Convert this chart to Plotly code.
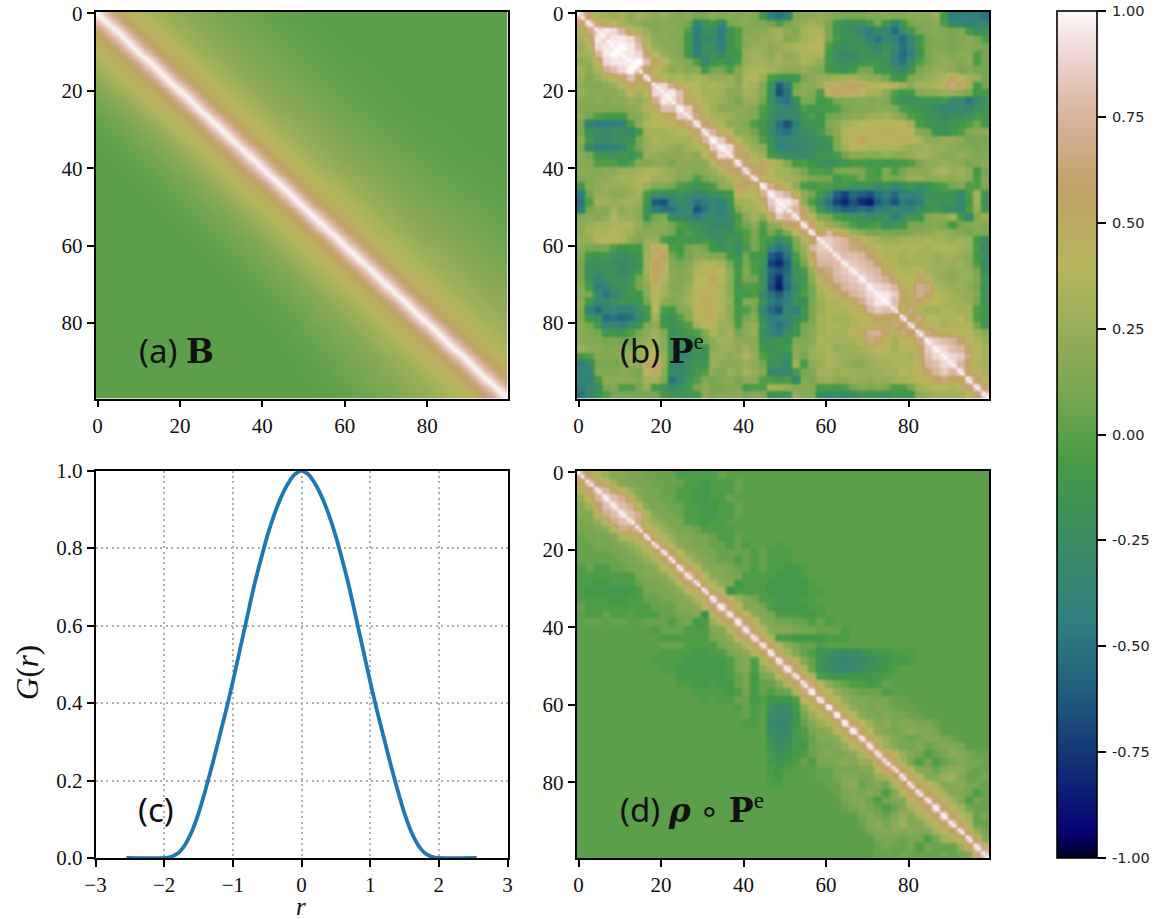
import numpy as np
import plotly.graph_objects as go

# ---------- colour map stops (gist_earth) ----------
CM_R = [(0, 0), (.2824, .1882), (.4588, .2714), (.5490, .4719), (.6980, .7176), (.7882, .7553), (1, .9922)]
CM_G = [(0, 0), (.0275, 0), (.1098, .1893), (.1647, .3035), (.2078, .3841), (.2824, .5020), (.5216, .6397),
        (.6980, .7171), (.7882, .6392), (.8157, .6549), (.8667, .6991), (.8980, .7430), (.9412, .8275),
        (.9647, .8816), (1, .9843)]
CM_B = [(0, 0), (.0039, .1684), (.0078, .2212), (.0275, .4329), (.0314, .4549), (.2824, .5004), (.4667, .2748),
        (.5451, .3205), (.7843, .3961), (.8941, .6651), (1, .9843)]
CM_POS = [0, .004, .008, .0275, .0314, .06, .11, .165, .208, .2824, .35, .42, .4588, .4667, .5, .5216, .5451, .5490,
          .6, .65, .698, .74, .7843, .7882, .8157, .8667, .8941, .898, .9412, .9647, 1]


def channel(stops, t):
    return float(np.interp(t, [s[0] for s in stops], [s[1] for s in stops]))


COLORSCALE = [[t, "rgb(%d,%d,%d)" % (channel(CM_R, t) * 255, channel(CM_G, t) * 255, channel(CM_B, t) * 255)]
              for t in CM_POS]

# ---------- value alphabet: A=-1.00 ... T=-0.05, 0=0, 1..9=.05-.45, a..k=.50-1.00 ----------
LEVELS = "ABCDEFGHIJKLMNOPQRST0123456789abcdefghijk"


def level(ch):
    return LEVELS.index(ch) / 20 - 1


# ---------- panel (a): value by distance from the diagonal, and how far the far field reaches along it ----------
B_PROFILE = [1.00, .92, .82, .72, .64, .57, .52, .48, .45, .42, .39, .37, .35, .33, .31, .29, .275, .26, .245, .23,
             .215, .20, .19, .18, .165, .155, .145, .135, .125, .115, .105, .098, .09, .083, .076, .07, .063, .057,
             .05, .045, .04, .035, .03, .026, .022, .018, .015, .012, .009, .007, .005, .003, .002, .001, 0, 0, 0, 0,
             0, 0]
B_REACH_UPPER = [1, 1, 1, 1, 1, 1, 1, 1, 1, 1, 1.02, 1.05, 1.08, 1.12, 1.16, 1.2, 1.24, 1.28, 1.32, 1.35]
B_REACH_LOWER = [.55, .55, .55, .55, .56, .57, .58, .59, .6, .61, .63, .66, .7, .75, .8, .86, .92, .98, 1.05, 1.1]
B_NEAR_BAND = 12

# ---------- panel (b): rows of two-index cells, from the diagonal to the right edge ----------
PE_ROWS = [
    "gc76564654 5434224343 43SLKL3445 4322233433 4445SLMMLK",
    "hda8654334332MQSN23 4332T24565 2SQQQS2RMR 2334TONMNN",
    "hjif9753 443TLPPLRT 3445643677 2RQPNLONJP S234323SPQ",
    "hjjie74 433SLOOLRT 4455634678 2SQQPMKNMJ NR2332342T",
    "jkjg95 443SLPPMRT 4554567788 TQPQQPNQNK NS23323432",
    "jjic8 543SMPQNSR 5654645777 RPOOQQPRMJ MR244344T2",
    "jkgb 9543TNQSQT 5665655764 SQPPRSSQMK PT245434T2",
    "gb9 64534S22T3 6776544543 SRQS22RRPO R245542322",
    "ga 8676765553 785TRQR245 56665442RR 34567b8652",
    "h ie98867654 763QIL2445 a9bbb98886 46679db6S2",
    "ijga866644 663PHK343T 9baa8664TR S3445543RS",
    "iga976542 552PMKP22R T2334343SQ QQQQROOKOQ",
    "jhb86444 43TQONOTRS ST2333443T SRQPNNONQR",
    "hd96654 43SPNOORTR 2234455643 TSQQOPPRSR",
    "hc9744 3TROKHLQRR 3467889898 6TRRQRST2S",
    "hf984 42SOLKNPQS 2479889a99 832QQRT344",
    "jhc8 54TQNNOOPQ R379b9999a 9744554222",
    "jic 754RMMNOPP Q368877776 5565543323",
    "hc b75SQPPOPR RS24444544 5665445433",
    "h c9b963STRQ PQRSSRSRSS T244544234",
    "gcb86642TT S2232TS3T2 44467564S2",
    "g98766422 2RTT2TT323 55445454T3",
    "iea84TST TSSQQROQNP RPQST23TT3",
    "jhf942S NIGJIHKLJM MNQQRQOT6R",
    "jjh4TO KGEHEDIKHL KLRRQQNS6Q",
    "hfb3R MKIJKJLMNN MPQRPONT5R",
    "hb83 2TRQQOPQLP RR3446SN35",
    "hc7 542TRSTPRR 22332S2343",
    "ha fa85422222 3445543233",
    "h hgfc976556 66766565SP",
    "hgfdca8777 77677765TO",
    "hggfc9776 76656654SP",
    "ihgfc976 66655564TO",
    "ihgfa97 796554552P",
    "jhge98 8a9654553R",
    "jihf9 8ed765542Q",
    "jjhc 9ec876553Q",
    "jgb ab9876652Q",
    "g9 d7667766TS",
    "g bd887786TR",
    "gb98677 72R",
    "gdba99864",
    "ihgfc975",
    "jigfb86",
    "jihd86",
    "ifb76",
    "hb96",
    "hc8",
    "hc",
    "h",
]

# ---------- panel (d): rows as in (b), zero beyond the end of each string ----------
RP_ROWS = [
    "eb7533221111TTTTT1", "fc9633221111TTSTTT1", "hfb9532211TTSSTTT1", "ige942211TTSSTT1", "ige832211TTSSTT1",
    "ige73221TTSSTT1", "hd75322TTSTT", "ea753221TTTT", "fa7533221TT1", "ea7432211T1T000T",
    "gb843221111T1TTT", "fa743211T1T1TTT", "gc8433211T1TTSST", "gc84322TTTTSSST", "fa743STTTSSSSST",
    "fa8QTTTTSSSSSTT", "hc9532TTSSSTT", "ic9332TSSSSTT", "hb9432TTTSST", "ic9432211T1T",
    "hb7433222111T", "gb7TTSSSSTTT", "hb74211T", "hb631TRQPOPQRSSTTT", "hc831ROONOOPQRSST",
    "hc71RPOOOPQRST", "gb7TRRRSSSST", "gd8421TTST1", "ia8532111T", "ha853322211",
    "ia743232111", "ia843232211", "ib8534233221", "ib843234332", "hb7532123321",
    "hb5322312332", "gc8532T1243211", "ec62T2T1232211", "eb73313442112", "gb8335631122",
    "fb96334221", "fb96332T1", "gc963T21", "ic86211", "ic8612", "gb711", "ga52", "gb3", "hd", "g",
]

# ---------- panel (c) ----------
R_VALUES = [-2.55, -2.0, -1.9, -1.8, -1.7, -1.6, -1.5, -1.4, -1.3, -1.2, -1.1, -1.0, -.9, -.8, -.7, -.6, -.5, -.4, -.3,
            -.2, -.1, 0, .1, .2, .3, .4, .5, .6, .7, .8, .9, 1.0, 1.1, 1.2, 1.3, 1.4, 1.5, 1.6, 1.7, 1.8, 1.9, 2.0, 2.55]
G_VALUES = [0, 0, .003, .012, .033, .067, .115, .175, .24, .31, .38, .455, .535, .615, .695, .765, .83, .885, .93,
            .965, .99, 1, .99, .965, .93, .885, .83, .765, .695, .615, .535, .455, .38, .31, .24, .175, .115, .067,
            .033, .012, .003, 0, 0]

INDEX_TICKS = [0, 20, 40, 60, 80]
R_TICKS = [-3, -2, -1, 0, 1, 2, 3]
R_TICK_TEXT = ["−3", "−2", "−1", "0", "1", "2", "3"]
G_TICKS = [0, .2, .4, .6, .8, 1]
G_TICK_TEXT = ["0.0", "0.2", "0.4", "0.6", "0.8", "1.0"]
CB_TICKS = [-1, -.75, -.5, -.25, 0, .25, .5, .75, 1]
CB_TICK_TEXT = ["-1.00", "-0.75", "-0.50", "-0.25", "0.00", "0.25", "0.50", "0.75", "1.00"]


def band_matrix():
    m = [[0.0] * 100 for _ in range(100)]
    for i in range(100):
        for j in range(100):
            off = abs(i - j)
            seg = min((i + j) // 10, 19)
            reach = B_REACH_UPPER[seg] if j > i else B_REACH_LOWER[seg]
            at = off if off <= B_NEAR_BAND else B_NEAR_BAND + (off - B_NEAR_BAND) / reach
            lo = int(at)
            m[i][j] = B_PROFILE[lo] if lo < len(B_PROFILE) else 0.0
    return m


def triangle_matrix(rows):
    m = [[0.0] * 100 for _ in range(100)]
    for k, s in enumerate(rows):
        s = s.replace(" ", "")
        for n in range(50 - k):
            v = level(s[n]) if n < len(s) else 0.0
            for a in (2 * k, 2 * k + 1):
                for b in (2 * (k + n), 2 * (k + n) + 1):
                    m[a][b] = v
                    m[b][a] = v
    for i in range(100):
        m[i][i] = 1.0
    return m


bad = [(k, len(s.replace(" ", ""))) for k, s in enumerate(PE_ROWS) if len(s.replace(" ", "")) != 50 - k]
assert not bad, "row lengths %s" % bad

Z_B = band_matrix()
Z_PE = triangle_matrix(PE_ROWS)
Z_RP = triangle_matrix(RP_ROWS)

W, H = 1159, 919
SERIF = "Liberation Serif"
INK = "#000000"


def xdom(a, b):
    return [a / W, b / W]


def ydom(top, bottom):
    return [1 - bottom / H, 1 - top / H]


axis_style = dict(showline=True, linecolor=INK, linewidth=1.6, mirror=True, ticks="outside", ticklen=7, tickwidth=1.6,
                  tickcolor=INK, tickfont=dict(family=SERIF, size=21, color="#111111"), zeroline=False,
                  automargin=False)

fig = go.Figure()
panels = [("x", "y", Z_B), ("x2", "y2", Z_PE), ("x4", "y4", Z_RP)]
for xa, ya, z in panels:
    fig.add_trace(go.Heatmap(z=z, xaxis=xa, yaxis=ya, coloraxis="coloraxis", zsmooth="best",
                             hoverinfo="skip"))
fig.add_trace(go.Scatter(x=R_VALUES, y=G_VALUES, xaxis="x3", yaxis="y3", mode="lines", showlegend=False,
                         line=dict(color="#1f77b4", width=3.8, shape="spline", smoothing=0.6)))

heat_x = dict(range=[-0.5, 99.5], tickvals=INDEX_TICKS, showgrid=False, **axis_style)
heat_y = dict(range=[99.5, -0.5], tickvals=INDEX_TICKS, showgrid=False, **axis_style)
grid = dict(showgrid=True, gridcolor="#b0b0b0", gridwidth=1.5, griddash="2px,3.4px")

fig.update_layout(
    width=W, height=H, margin=dict(l=0, r=0, t=0, b=0), autosize=False,
    paper_bgcolor="white", plot_bgcolor="white", showlegend=False,
    xaxis=dict(domain=xdom(95.5, 507.5), anchor="y", **heat_x),
    yaxis=dict(domain=ydom(11.5, 398.5), anchor="x", **heat_y),
    xaxis2=dict(domain=xdom(576.5, 989), anchor="y2", **heat_x),
    yaxis2=dict(domain=ydom(11.5, 398.5), anchor="x2", **heat_y),
    xaxis4=dict(domain=xdom(576.5, 989), anchor="y4", **heat_x),
    yaxis4=dict(domain=ydom(470.5, 858), anchor="x4", **heat_y),
    xaxis3=dict(domain=xdom(95.5, 507.5), anchor="y3", range=[-3, 3], tickvals=R_TICKS, ticktext=R_TICK_TEXT,
                **grid, **axis_style),
    yaxis3=dict(domain=ydom(470.5, 858), anchor="x3", range=[0, 1], tickvals=G_TICKS, ticktext=G_TICK_TEXT,
                **grid, **axis_style),
    coloraxis=dict(
        cmin=-1, cmax=1, colorscale=COLORSCALE,
        colorbar=dict(x=1057 / W, xanchor="left", xpad=0, ypad=0, y=1 - 858 / H, yanchor="bottom", lenmode="fraction",
                      len=847 / H, thickness=40, thicknessmode="pixels", outlinecolor=INK, outlinewidth=1.6,
                      ticks="outside", ticklen=9, tickwidth=1.6, tickcolor=INK, tickvals=CB_TICKS,
                      ticktext=["\u2009" + t for t in CB_TICK_TEXT],
                      tickfont=dict(family="DejaVu Sans", size=14.5, color="#222222")),
    ),
)

BOLD = "font-family:'DejaVu Serif';font-weight:bold"
LIGHT = "font-family:'Liberation Serif'"
LABEL_FONT = dict(family="Noto Sans", size=33, color="#111111")
labels = [
    ("x", "y", 9.5, 87, "(a) <span style=\"%s\">B</span>" % BOLD),
    ("x2", "y2", 9.5, 87, "(b) <span style=\"%s\">P</span><span style=\"%s\"><sup>e</sup></span>" % (BOLD, LIGHT)),
    ("x3", "y3", -2.41, 0.124, "(c)"),
    ("x4", "y4", 9.5, 87, "(d) <span style=\"%s\"><i>ρ</i></span> <span style=\"%s\">∘</span> <span style=\"%s\">P</span>"
                          "<span style=\"%s\"><sup>e</sup></span>" % (BOLD, LIGHT, BOLD, LIGHT)),
]
for xa, ya, x, y, text in labels:
    fig.add_annotation(xref=xa, yref=ya, x=x, y=y, text=text, showarrow=False, xanchor="left", yanchor="middle",
                       font=LABEL_FONT)
AX_TITLE = dict(family=SERIF, size=31, color="#111111")
fig.add_annotation(xref="paper", yref="paper", x=301 / W, y=0, text="<i>r</i>", showarrow=False,
                   font=dict(family=SERIF, size=25, color="#111111"), xanchor="center", yanchor="bottom",
                   borderpad=0, yshift=-2)
fig.add_annotation(xref="paper", yref="paper", x=27 / W, y=1 - 673 / H, text="<i>G</i>(<i>r</i>)", showarrow=False,
                   textangle=-90, font=AX_TITLE, xanchor="center", yanchor="middle")

fig.write_html("out.html", post_script="document.body.style.margin='0';", config={"displayModeBar": False})
